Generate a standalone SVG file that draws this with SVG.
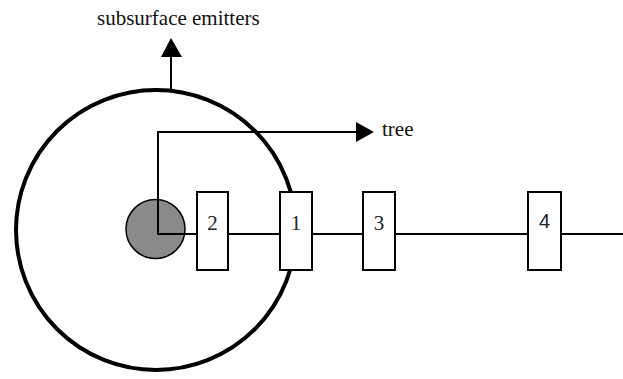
<svg xmlns="http://www.w3.org/2000/svg" width="623" height="379" viewBox="0 0 623 379">
  <style>
    .wire { fill: none; stroke: #000; stroke-width: 2; }
    .box { fill: #fff; stroke: #000; stroke-width: 2; }
    .num { font-family: 'Liberation Serif', 'Times New Roman', serif; font-size: 21px; text-anchor: middle; fill: #222; }
    .sans { font-family: 'Liberation Sans', Arial, sans-serif; font-size: 20px; }
    .lbl { font-family: 'Liberation Serif', 'Times New Roman', serif; font-size: 21px; fill: #111; }
  </style>

  <!-- zone boundary -->
  <g id="zone">
    <circle cx="156" cy="230" r="140" fill="none" stroke="#000" stroke-width="4"/>
  </g>

  <!-- connectors -->
  <g id="connectors">
    <line class="wire" x1="158" y1="234" x2="623" y2="234"/>
    <polyline class="wire" points="158,234 158,132 358,132"/>
    <polygon points="356,122 374,132 356,142" fill="#000"/>
    <line class="wire" x1="171" y1="90" x2="171" y2="57"/>
    <polygon points="161,57 171,38 182,57" fill="#000"/>
  </g>

  <g id="source">
    <circle cx="155.5" cy="229" r="29.5" fill="#8a8a8a" stroke="#000" stroke-width="1.5"/>
    <polyline class="wire" points="158,200 158,234 186,234"/>
  </g>

  <g id="node-2">
    <rect class="box" x="197" y="192" width="31" height="78"/>
    <text class="num" x="212.5" y="230">2</text>
  </g>
  <g id="node-1">
    <rect class="box" x="280" y="192" width="32" height="78"/>
    <text class="num" x="296" y="230">1</text>
  </g>
  <g id="node-3">
    <rect class="box" x="363" y="192" width="32" height="78"/>
    <text class="num" x="379" y="230">3</text>
  </g>
  <g id="node-4">
    <rect class="box" x="528" y="192" width="33" height="78"/>
    <text class="num sans" x="544.5" y="228">4</text>
  </g>

  <g id="labels">
    <text class="lbl" x="97" y="25">subsurface emitters</text>
    <text class="lbl" x="382" y="136">tree</text>
  </g>
</svg>
